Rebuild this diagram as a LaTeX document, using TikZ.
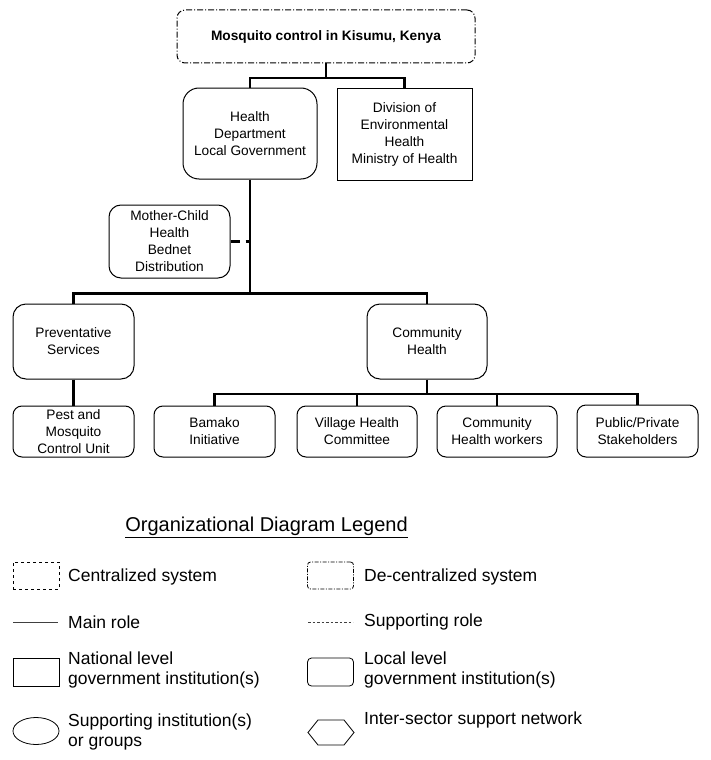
\documentclass[tikz,border=0pt]{standalone}
\usepackage{fontspec}
\setmainfont{Liberation Sans}
\usepackage{tikz}
\usetikzlibrary{shapes.geometric}
\newcommand{\unitfont}{\fontsize{13.7}{17}\selectfont}
\newcommand{\keyfont}{\fontsize{17.5}{20}\selectfont}
\tikzstyle{unit}=[draw, line width=1pt, align=center, inner sep=0pt, font=\unitfont]
\tikzstyle{localunit}=[unit, rounded corners=13pt]
\tikzstyle{natunit}=[unit]
\tikzstyle{decunit}=[unit, rounded corners=8pt, dash pattern=on 6pt off 2pt on 1pt off 2pt]
\tikzstyle{mainrole}=[line width=2.6pt]
\tikzstyle{suprole}=[mainrole, dash pattern=on 9pt off 6pt]
\tikzstyle{keyshape}=[draw, line width=0.8pt, minimum width=46pt, minimum height=27pt, inner sep=0pt]
\tikzstyle{keytext}=[anchor=west, align=left, inner sep=0pt, font=\keyfont]

\begin{document}
\begin{tikzpicture}[x=1pt, y=-1pt]
        \useasboundingbox (0,0) rectangle (710,760);
        \node[decunit, minimum width=298pt, minimum height=53pt, font=\unitfont\bfseries] (top) at (326, 36.5) {Mosquito control in Kisumu, Kenya};
        \node[localunit, rounded corners=16pt, minimum width=134pt, minimum height=91pt] (health) at (250, 133.5) {Health\\Department\\Local Government};
        \node[natunit, minimum width=135pt, minimum height=92pt] (division) at (404.5, 134) {Division of\\Environmental\\Health\\Ministry of Health};
        \node[localunit, rounded corners=12pt, minimum width=121pt, minimum height=73pt] (mchild) at (169.5, 241.5) {Mother-Child\\Health\\Bednet\\Distribution};
        \node[localunit, minimum width=121pt, minimum height=75pt] (prev) at (73.5, 341.5) {Preventative\\Services};
        \node[localunit, minimum width=120pt, minimum height=75pt] (comm) at (427, 341.5) {Community\\Health};
        \node[localunit, rounded corners=9pt, minimum width=121pt, minimum height=51pt] (pest) at (73.5, 431.5) {Pest and\\Mosquito\\Control Unit};
        \node[localunit, rounded corners=9pt, minimum width=121pt, minimum height=51pt] (bamako) at (214.5, 431.5) {Bamako\\Initiative};
        \node[localunit, rounded corners=9pt, minimum width=120pt, minimum height=51pt] (village) at (357, 431.5) {Village Health\\Committee};
        \node[localunit, rounded corners=9pt, minimum width=120pt, minimum height=51pt] (workers) at (497, 431.5) {Community\\Health workers};
        \node[localunit, rounded corners=9pt, minimum width=121pt, minimum height=52pt] (public) at (637.5, 431) {Public/Private\\Stakeholders};
        \coordinate (topbar) at (326, 78);
        \coordinate (midbar) at (250, 293.5);
        \coordinate (lowbar) at (427, 394);
        \draw[mainrole] (top.south) -- (topbar);
        \draw[mainrole] (health.north) |- (topbar) -| (division.north);
        \draw[mainrole] (health.south) -- (midbar);
        \draw[mainrole] (prev.north) |- (midbar) -| (comm.north);
        \draw[suprole] (mchild.east) -- (mchild.east -| health.south);
        \draw[mainrole] (prev.south) -- (pest.north);
        \draw[mainrole] (comm.south) -- (lowbar);
        \draw[mainrole] (bamako.north) |- (lowbar) -| (public.north);
        \draw[mainrole] (village.north) |- (lowbar);
        \draw[mainrole] (workers.north) |- (lowbar);
        \node[inner sep=0pt, font=\fontsize{20}{24}\selectfont] (legend) at (266.5, 527) {\underline{Organizational Diagram Legend}};
        \node[keyshape, dashed] (ckey) at (36, 575.5) {};
        \node[keytext] (ctext) at (68, 577) {Centralized system};
        \node[keyshape, rounded corners=3pt, dash pattern=on 4pt off 1.5pt on 1pt off 1.5pt] (dkey) at (330.5, 575.5) {};
        \node[keytext] (dtext) at (364, 577) {De-centralized system};
        \coordinate (mainA) at (13, 622);
        \coordinate (mainB) at (58, 622);
        \draw[line width=0.9pt, black!75] (mainA) -- (mainB);
        \node[keytext] (mtext) at (68, 622) {Main role};
        \coordinate (supA) at (308, 622);
        \coordinate (supB) at (353, 622);
        \draw[line width=0.8pt, black!75, dash pattern=on 2.5pt off 2pt] (supA) -- (supB);
        \node[keytext] (stext) at (364, 622) {Supporting role};
        \node[keyshape, minimum height=28pt] (nkey) at (36, 672) {};
        \node[keytext] (ntext) at (68, 670) {National level\\government institution(s)};
        \node[keyshape, minimum height=28pt, rounded corners=4pt] (lkey) at (330.5, 672) {};
        \node[keytext] (ltext) at (364, 670) {Local level\\government institution(s)};
        \node[keyshape, ellipse] (ekey) at (36, 731) {};
        \node[keytext] (etext) at (68, 732) {Supporting institution(s)\\or groups};
        \draw[line width=0.8pt] (308, 732.5) -- (318, 720) -- (344, 720) -- (354, 732.5) -- (344, 745) -- (318, 745) -- cycle;
        \node[keytext] (htext) at (364, 720) {Inter-sector support network};
    \end{tikzpicture}
\end{document}
